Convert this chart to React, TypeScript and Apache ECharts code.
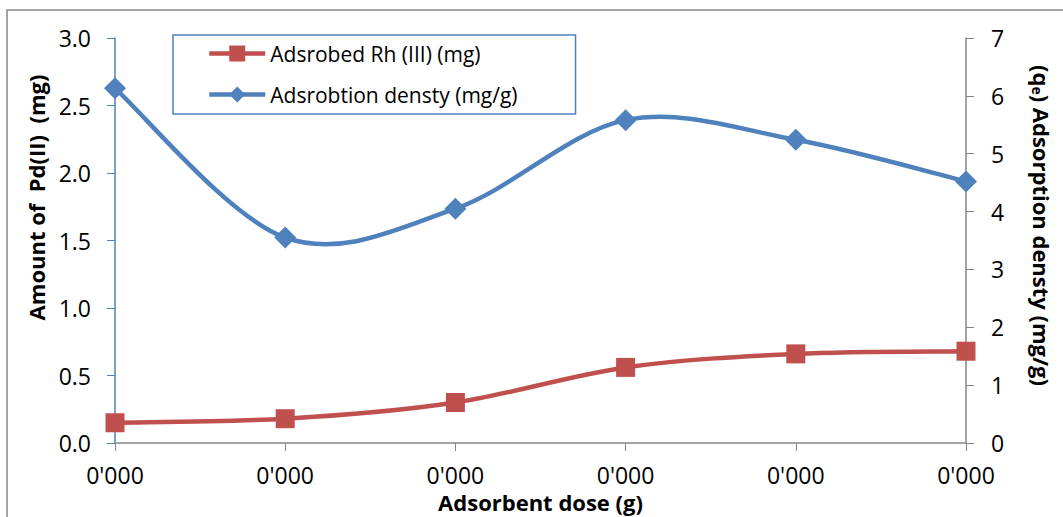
import React, { useEffect, useRef } from "react";
import * as echarts from "echarts";

const categories = ["0'000", "0'000", "0'000", "0'000", "0'000", "0'000"];
const adsorbedRh = [0.15, 0.18, 0.3, 0.56, 0.66, 0.68];
const adsorptionDensity = [6.13, 3.55, 4.05, 5.58, 5.24, 4.52];
const seriesNames = ["Adsrobed Rh (III) (mg)", "Adsrobtion densty (mg/g)"];

const FONT = "'Open Sans', sans-serif";
const RED = "#c0504d";
const BLUE = "#4f81bd";
const LW = 4.5;

function curveSeries(name: string, values: number[], yAxisIndex: number, color: string) {
  return {
    name,
    type: "custom",
    yAxisIndex,
    z: 2,
    silent: true,
    data: values.map((v, i) => [i, v]),
    renderItem: (params: any, api: any) => {
      const i = params.dataIndex;
      const n = values.length;
      if (i >= n - 1) return null;
      const pt = (k: number) => {
        const kk = Math.max(0, Math.min(n - 1, k));
        return api.coord([kk, values[kk]]);
      };
      const p0 = pt(i - 1);
      const p1 = pt(i);
      const p2 = pt(i + 1);
      const p3 = pt(i + 2);
      return {
        type: "bezierCurve",
        shape: {
          x1: p1[0],
          y1: p1[1],
          x2: p2[0],
          y2: p2[1],
          cpx1: p1[0] + (p2[0] - p0[0]) / 6,
          cpy1: p1[1] + (p2[1] - p0[1]) / 6,
          cpx2: p2[0] - (p3[0] - p1[0]) / 6,
          cpy2: p2[1] - (p3[1] - p1[1]) / 6,
        },
        style: { stroke: color, lineWidth: LW, fill: "none", lineCap: "round" },
      };
    },
  };
}

export default function App() {
  const ref = useRef<HTMLDivElement>(null);
  useEffect(() => {
    if (!ref.current) return;
    const chart = echarts.init(ref.current, undefined, { renderer: "svg" });
    chart.setOption({
      animation: false,
      backgroundColor: "#ffffff",
      textStyle: { fontFamily: FONT },
      graphic: [
        {
          type: "rect",
          shape: { x: 7, y: 10, width: 1080, height: 540 },
          style: { fill: "none", stroke: "#868686", lineWidth: 1.5 },
          silent: true,
          z: -1,
        },
      ],
      grid: { left: 115, right: 97, top: 38, bottom: 74, containLabel: false, outerBoundsMode: "none" },
      legend: {
        orient: "vertical",
        left: 173,
        top: 35,
        padding: [8, 58, 9, 34],
        itemGap: 20,
        itemWidth: 56,
        itemHeight: 20,
        borderColor: BLUE,
        borderWidth: 1.5,
        textStyle: { fontFamily: FONT, fontSize: 21, color: "#000" },
        data: [
          { name: seriesNames[0], lineStyle: { color: RED, width: LW, opacity: 1 } },
          { name: seriesNames[1], lineStyle: { color: BLUE, width: LW, opacity: 1 } },
        ],
      },
      xAxis: {
        type: "category",
        data: categories,
        boundaryGap: false,
        name: "Adsorbent dose (g)",
        nameLocation: "middle",
        nameGap: 48,
        nameTextStyle: { fontFamily: FONT, fontSize: 22, fontWeight: "bold", color: "#000" },
        axisLine: { lineStyle: { color: "#868686", width: 1.5 } },
        axisTick: { show: true, alignWithLabel: true, length: 8, lineStyle: { color: "#868686" } },
        axisLabel: { fontFamily: FONT, fontSize: 23, color: "#000", margin: 20 },
        splitLine: { show: false },
      },
      yAxis: [
        {
          type: "value",
          min: 0,
          max: 3,
          interval: 0.5,
          position: "left",
          name: "Amount of  Pd(II)  (mg)",
          nameLocation: "middle",
          nameGap: 68,
          nameTextStyle: {
            fontFamily: FONT,
            fontSize: 22,
            fontWeight: "bold",
            color: "#000",
            padding: [0, 0, 0, 86],
          },
          axisLine: { show: true, lineStyle: { color: BLUE, width: 1.5 } },
          axisTick: { show: true, length: 8, lineStyle: { color: BLUE } },
          axisLabel: {
            fontFamily: FONT,
            fontSize: 23,
            color: "#000",
            margin: 24,
            formatter: (v: number) => v.toFixed(1),
          },
          splitLine: { show: false },
        },
        {
          type: "value",
          min: 0,
          max: 7,
          interval: 1,
          position: "right",
          name: "{a|(q}{s|e}{a|) Adsorption densty (mg/g)}",
          nameLocation: "middle",
          nameGap: 64,
          nameRotate: -90,
          nameTextStyle: {
            fontFamily: FONT,
            fontSize: 22,
            fontWeight: "bold",
            color: "#000",
            padding: [0, 30, 0, 0],
            rich: {
              a: { fontFamily: FONT, fontSize: 22, fontWeight: "bold", color: "#000" },
              s: { fontFamily: FONT, fontSize: 14, fontWeight: "bold", color: "#000", padding: [10, 0, 0, 0] },
            },
          },
          axisLine: { show: true, lineStyle: { color: "#868686", width: 1.5 } },
          axisTick: { show: true, length: 8, lineStyle: { color: "#868686" } },
          axisLabel: { fontFamily: FONT, fontSize: 23, color: "#000", margin: 25 },
          splitLine: { show: false },
        },
      ],
      series: [
        curveSeries("rh-curve", adsorbedRh, 0, RED),
        curveSeries("density-curve", adsorptionDensity, 1, BLUE),
        {
          name: seriesNames[0],
          type: "line",
          yAxisIndex: 0,
          z: 3,
          data: adsorbedRh,
          symbol: "rect",
          symbolSize: 19,
          itemStyle: { color: RED },
          lineStyle: { color: RED, width: LW, opacity: 0 },
        },
        {
          name: seriesNames[1],
          type: "line",
          yAxisIndex: 1,
          z: 3,
          data: adsorptionDensity,
          symbol: "diamond",
          symbolSize: 22,
          itemStyle: { color: BLUE },
          lineStyle: { color: BLUE, width: LW, opacity: 0 },
        },
      ],
    });
    return () => chart.dispose();
  }, []);
  return <div ref={ref} style={{ width: 1063, height: 517, position: "absolute", left: 0, top: 0 }} />;
}
